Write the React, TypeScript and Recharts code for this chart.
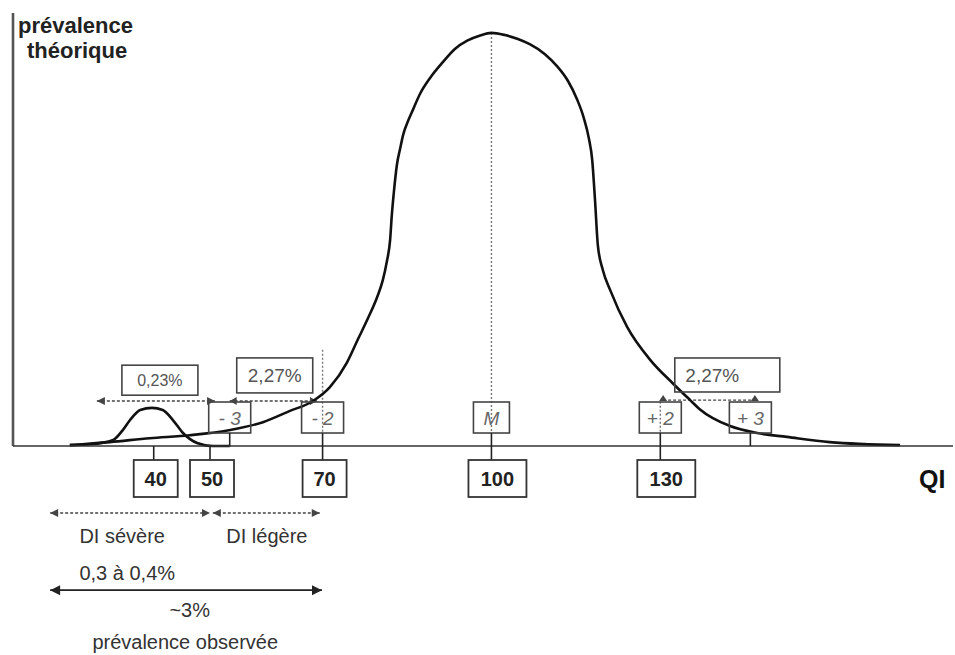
import React from 'react';
import { ComposedChart, Line, XAxis, YAxis, ReferenceLine, ReferenceDot } from 'recharts';

// Main theoretical distribution (QI, prevalence)
const curveQI = [25.1, 32.2, 39.3, 46.4, 53.6, 59.4, 64.2, 68.3, 71.3, 74.3, 76.3, 78.1, 79.7, 80.7, 81.4, 82.0, 82.3, 82.7, 83.2, 83.8, 84.3, 85.2, 86.1, 87.3, 89.1, 91.4, 93.5, 95.7, 98.0, 100, 102.4, 104.7, 106.8, 109.5, 111.6, 113.6, 115.2, 116.4, 117.3, 117.9, 118.4, 118.9, 119.8, 121.1, 124.1, 128.2, 132.2, 135.3, 137.0, 142.4, 147.2, 152.5, 160.1, 172.6];
const curvePrev = [0.2, 0.9, 1.8, 2.5, 3.7, 5.5, 8.1, 10.4, 13.6, 19.2, 24.7, 29.6, 34.4, 38.3, 42.5, 47.6, 53.3, 59.1, 64.9, 68.8, 71.8, 75.1, 77.8, 81.3, 85.0, 88.7, 91.7, 93.6, 94.8, 95.4, 94.9, 94.0, 92.8, 90.5, 87.8, 84.3, 80.1, 75.8, 71.1, 66.1, 56.8, 46.4, 40.6, 36.0, 27.5, 19.9, 14.5, 10.6, 8.5, 4.6, 3.0, 2.1, 0.9, 0.2];

// Small bump around QI 40
const bumpQI = [25.1, 28.7, 32.8, 34.4, 35.8, 37.6, 39.7, 41.6, 43.4, 45.2, 47.7, 50.5, 53.5];
const bumpPrev = [0.2, 0.4, 1.4, 3.5, 6.0, 8.3, 8.8, 8.3, 6.0, 3.0, 0.7, 0, 0];

// Axis ticks
const tickValues = [40, 50, 70, 100, 130];

// Standard deviation markers
const sdQI = [53.5, 70, 100, 130, 146];
const sdLabels = ['- 3', '- 2', 'M', '+ 2', '+ 3'];

// Percentage boxes
const pctQI = [41.1, 61.5, 141.9];
const pctLabels = ['0,23%', '2,27%', '2,27%'];

// Bottom annotation texts
const noteLabels = ['DI sévère', 'DI légère', '0,3 à 0,4%', '~3%', 'prévalence observée'];
const noteQI = [34.4, 60.1, 35.3, 46.4, 45.6];

const mainData = curveQI.map((q, i) => ({ qi: q, prev: curvePrev[i] }));
const bumpData = bumpQI.map((q, i) => ({ qi: q, prev: bumpPrev[i] }));

const FONT = '"Liberation Sans", Arial, Helvetica, sans-serif';

// layout constants (data-space y positions for annotations)
const SD_Y = 6.58;
const PCT_Y = [15.2, 16.3, 16.4];
const PCT_W = [76, 76, 105];
const PCT_H = [30, 35, 34];
const PCT_FS = [16, 19, 19];
const PCT_DX = [0, 0, -15];
const NOTE_Y = [-22.4, -22.4, -30.9, -39.5, -46.9];
const ARROW_Y = 10.4;

const QiTick = (props: any) => {
  const { x, y, payload } = props;
  const s = String(payload.value);
  const w = s.length > 2 ? 58 : 44;
  const dx = s.length > 2 ? 6 : 2;
  const top = y + 14;
  const h = 37;
  return (
    <g>
      <line x1={x} y1={y} x2={x} y2={top} stroke="#222" strokeWidth={1.6} />
      <rect x={x - w / 2 + dx} y={top} width={w} height={h} fill="#fff" stroke="#333" strokeWidth={1.8} />
      <text x={x + dx} y={top + h / 2 + 7} textAnchor="middle" fontFamily={FONT} fontWeight="bold" fontSize={20} fill="#222">
        {s}
      </text>
    </g>
  );
};

const AxisLabels = () => (
  <g>
    <text x={18} y={33} fontFamily={FONT} fontWeight="bold" fontSize={22} fill="#222">prévalence</text>
    <text x={27} y={58} fontFamily={FONT} fontWeight="bold" fontSize={22} fill="#222">théorique</text>
    <text x={919} y={488} fontFamily={FONT} fontWeight="bold" fontSize={25} fill="#111">QI</text>
  </g>
);

const sdShape = (label: string) => (p: any) => {
  const { cx, cy } = p;
  const w = label === 'M' ? 36 : 42;
  const h = 31;
  return (
    <g>
      <rect x={cx - w / 2} y={cy - h / 2} width={w} height={h} fill="none" stroke="#444" strokeWidth={1.6} />
      <line x1={cx} y1={cy + h / 2} x2={cx} y2={cy + h / 2 + 13} stroke="#222" strokeWidth={1.6} />
      <text x={cx} y={cy + 7} textAnchor="middle" fontFamily={FONT} fontStyle="italic" fontSize={19} fill="#666">
        {label}
      </text>
    </g>
  );
};

const pctShape = (i: number) => (p: any) => {
  const { cx, cy } = p;
  const w = PCT_W[i];
  const h = PCT_H[i];
  return (
    <g>
      <rect x={cx - w / 2} y={cy - h / 2} width={w} height={h} fill="none" stroke="#444" strokeWidth={1.6} />
      <text x={cx + PCT_DX[i]} y={cy + PCT_FS[i] * 0.36} textAnchor="middle" fontFamily={FONT} fontSize={PCT_FS[i]} fill="#555">
        {pctLabels[i]}
      </text>
    </g>
  );
};

const noteShape = (i: number) => (p: any) => (
  <text x={p.cx} y={p.cy} textAnchor="middle" fontFamily={FONT} fontSize={20} fill="#333">
    {noteLabels[i]}
  </text>
);

function arrowShape(start: string, end: string, dashed: boolean, color: string, sw: number, hl: number, hw: number) {
  return (p: any) => {
    const { x1, y1, x2, y2 } = p;
    const head = (x: number, y: number, dir: number, kind: string) => {
      if (kind === 'tri')
        return <polygon points={`${x},${y} ${x - dir * hl},${y - hw} ${x - dir * hl},${y + hw}`} fill={color} />;
      if (kind === 'up')
        return <polygon points={`${x},${y - 5} ${x - 4},${y + 1} ${x + 4},${y + 1}`} fill={color} />;
      return null;
    };
    return (
      <g>
        <line x1={x1} y1={y1} x2={x2} y2={y2} stroke={color} strokeWidth={sw} strokeDasharray={dashed ? '3 2' : undefined} />
        {head(x1, y1, -1, start)}
        {head(x2, y2, 1, end)}
      </g>
    );
  };
}

export default function App() {
  return (
    <div style={{ position: 'absolute', left: 0, top: 0, width: 955, height: 655, background: '#fff' }}>
      <ComposedChart width={955} height={655} margin={{ top: 13, right: 2, left: 13, bottom: 149 }}>
        <XAxis
          type="number"
          dataKey="qi"
          domain={[15, 182]}
          ticks={tickValues}
          interval={0}
          tick={<QiTick />}
          tickLine={false}
          tickSize={0}
          tickMargin={0}
          axisLine={{ stroke: '#333', strokeWidth: 1.6 }}
          height={60}
          label={<AxisLabels />}
        />
        <YAxis type="number" dataKey="prev" domain={[0, 100]} hide />

        {/* vertical axis */}
        <ReferenceLine segment={[{ x: 15, y: 0 }, { x: 15, y: 100 }]} stroke="#555" strokeWidth={2.6} ifOverflow="visible" />

        {/* dotted verticals */}
        <ReferenceLine segment={[{ x: 100, y: 95.4 }, { x: 100, y: 3.0 }]} stroke="#777" strokeWidth={1.4} strokeDasharray="2 2" ifOverflow="visible" />
        <ReferenceLine segment={[{ x: 70, y: 22.2 }, { x: 70, y: 3.0 }]} stroke="#777" strokeWidth={1.4} strokeDasharray="2 2" ifOverflow="visible" />
        <ReferenceLine segment={[{ x: 130, y: 10.2 }, { x: 130, y: 3.0 }]} stroke="#777" strokeWidth={1.4} strokeDasharray="2 2" ifOverflow="visible" />

        {/* dotted range arrows above axis */}
        <ReferenceLine segment={[{ x: 29.9, y: ARROW_Y }, { x: 50.9, y: ARROW_Y }]} ifOverflow="visible" shape={arrowShape('tri', 'tri', true, '#444', 1.4, 8, 4)} />
        <ReferenceLine segment={[{ x: 53.5, y: ARROW_Y }, { x: 69.0, y: ARROW_Y }]} ifOverflow="visible" shape={arrowShape('tri', 'tri', true, '#444', 1.4, 7, 4)} />
        <ReferenceLine segment={[{ x: 130.5, y: 10.6 }, { x: 146.8, y: 10.6 }]} ifOverflow="visible" shape={arrowShape('up', 'up', true, '#444', 1.4, 7, 4)} />

        {/* bottom range arrows */}
        <ReferenceLine segment={[{ x: 21.6, y: -15.5 }, { x: 50.0, y: -15.5 }]} ifOverflow="visible" shape={arrowShape('tri', 'tri', true, '#444', 1.5, 8, 4)} />
        <ReferenceLine segment={[{ x: 50.5, y: -15.5 }, { x: 69.5, y: -15.5 }]} ifOverflow="visible" shape={arrowShape('tri', 'tri', true, '#444', 1.5, 8, 4)} />
        <ReferenceLine segment={[{ x: 21.6, y: -33.3 }, { x: 69.9, y: -33.3 }]} ifOverflow="visible" shape={arrowShape('tri', 'tri', false, '#222', 1.8, 10, 5)} />

        <Line data={mainData} dataKey="prev" type="monotone" stroke="#111" strokeWidth={2.6} dot={false} activeDot={false} isAnimationActive={false} />
        <Line data={bumpData} dataKey="prev" type="monotone" stroke="#111" strokeWidth={2.6} dot={false} activeDot={false} isAnimationActive={false} />

        {sdQI.map((q, i) => (
          <ReferenceDot key={'sd' + i} x={q} y={SD_Y} ifOverflow="visible" shape={sdShape(sdLabels[i])} />
        ))}
        {pctQI.map((q, i) => (
          <ReferenceDot key={'pct' + i} x={q} y={PCT_Y[i]} ifOverflow="visible" shape={pctShape(i)} />
        ))}
        {noteQI.map((q, i) => (
          <ReferenceDot key={'note' + i} x={q} y={NOTE_Y[i]} ifOverflow="visible" shape={noteShape(i)} />
        ))}
      </ComposedChart>
    </div>
  );
}
